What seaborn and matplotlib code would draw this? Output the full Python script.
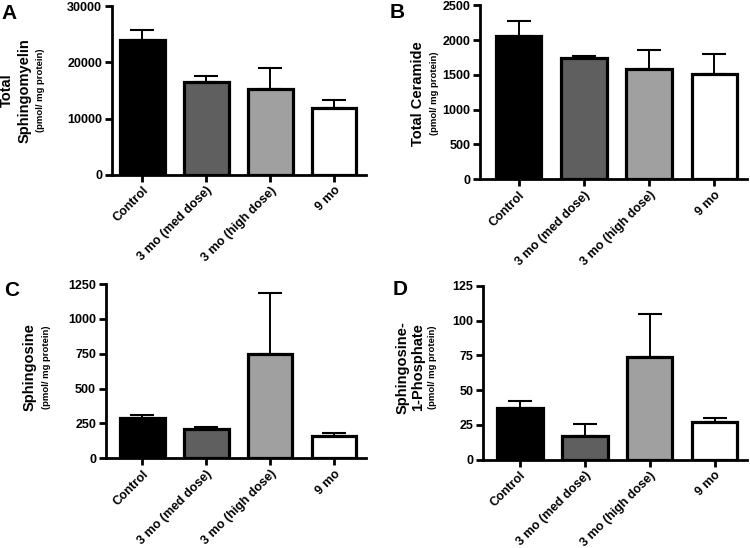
import numpy as np
import pandas as pd
import matplotlib
matplotlib.use("Agg")
import matplotlib.pyplot as plt
import seaborn as sns

# data (mean, upper error)
groups = ["Control", "3 mo (med dose)", "3 mo (high dose)", "9 mo"]
bar_colors = ["#000000", "#5f5f5f", "#a0a0a0", "#ffffff"]

sm_mean = [23950, 16450, 15270, 11830]
sm_err = [1790, 1060, 3720, 1480]

cer_mean = [2055, 1735, 1582, 1506]
cer_err = [211, 29, 278, 291]

sph_mean = [286, 209, 748, 156]
sph_err = [22, 15, 437, 22]

s1p_mean = [37.0, 17.3, 73.8, 27.4]
s1p_err = [5.3, 8.7, 31.2, 2.6]

sns.set_theme(style="ticks")
plt.rcParams.update({
    "font.family": ["Liberation Sans", "DejaVu Sans"],
    "font.weight": "bold",
    "text.color": "black",
    "axes.edgecolor": "black",
    "xtick.color": "black",
    "ytick.color": "black",
    "xtick.labelcolor": "black",
    "ytick.labelcolor": "black",
})

fig = plt.figure(figsize=(7.5, 5.48), dpi=100)

panels = [
    # letter, label lines, means, errs, ymax, yticks, axes rect, xlim, letter pos, label x, small label x, label y
    ("A", ["Total", "Sphingomyelin"], sm_mean, sm_err, 30000, np.arange(0, 30001, 10000),
     [0.149, 0.681, 0.339, 0.308], (-0.48, 3.5), (0.002, 0.992), [0.009, 0.033], 0.054, 0.835),
    ("B", ["Total Ceramide"], cer_mean, cer_err, 2500, np.arange(0, 2501, 500),
     [0.640, 0.673, 0.356, 0.3175], (-0.59, 3.5), (0.519, 0.995), [0.557], 0.579, 0.83),
    ("C", ["Sphingosine"], sph_mean, sph_err, 1250, np.arange(0, 1251, 250),
     [0.141, 0.164, 0.347, 0.3175], (-0.57, 3.5), (0.005, 0.487), [0.040], 0.062, 0.33),
    ("D", ["Sphingosine-", "1-Phosphate"], s1p_mean, s1p_err, 125, np.arange(0, 126, 25),
     [0.644, 0.161, 0.352, 0.3175], (-0.57, 3.5), (0.523, 0.489), [0.537, 0.557], 0.577, 0.33),
]

for letter, ylab, means, errs, ymax, yticks, rect, xlim, lpos, labx, smallx, laby in panels:
    ax = fig.add_axes(rect)
    df = pd.DataFrame({"group": groups, "value": means})
    ax.errorbar(np.arange(len(groups)), means, yerr=[np.zeros(len(errs)), errs],
                fmt="none", ecolor="black", elinewidth=1.4, capsize=8.3, capthick=1.5, zorder=1)
    sns.barplot(data=df, x="group", y="value", hue="group", palette=bar_colors,
                edgecolor="black", linewidth=2.3, width=0.7, errorbar=None,
                legend=False, ax=ax, zorder=2)
    ax.set_ylim(0, ymax)
    ax.set_xlim(*xlim)
    ax.set_yticks(yticks)
    ax.set_xlabel("")
    ax.set_ylabel("")
    ax.set_xticks(range(len(groups)))
    ax.set_xticklabels(groups, rotation=45, ha="right", rotation_mode="anchor",
                       fontsize=9, fontweight="bold", color="black")
    for t in ax.get_yticklabels():
        t.set_fontsize(9)
        t.set_fontweight("bold")
        t.set_color("black")
    sns.despine(ax=ax)
    for s in ["left", "bottom"]:
        ax.spines[s].set_linewidth(2)
        ax.spines[s].set_color("black")
    ax.tick_params(axis="both", width=2, length=5, direction="out", pad=2, colors="black")
    for x, line in zip(labx, ylab):
        fig.text(x, laby, line, rotation=90, ha="center", va="center",
                 fontsize=10.5, fontweight="bold", color="black")
    fig.text(smallx, laby, "(pmol/ mg protein)", rotation=90, ha="center", va="center",
             fontsize=6.8, fontweight="bold", color="black")
    fig.text(lpos[0], lpos[1], letter, ha="left", va="top", fontsize=15,
             fontweight="bold", color="black")

fig.savefig("out.png", dpi=100)
